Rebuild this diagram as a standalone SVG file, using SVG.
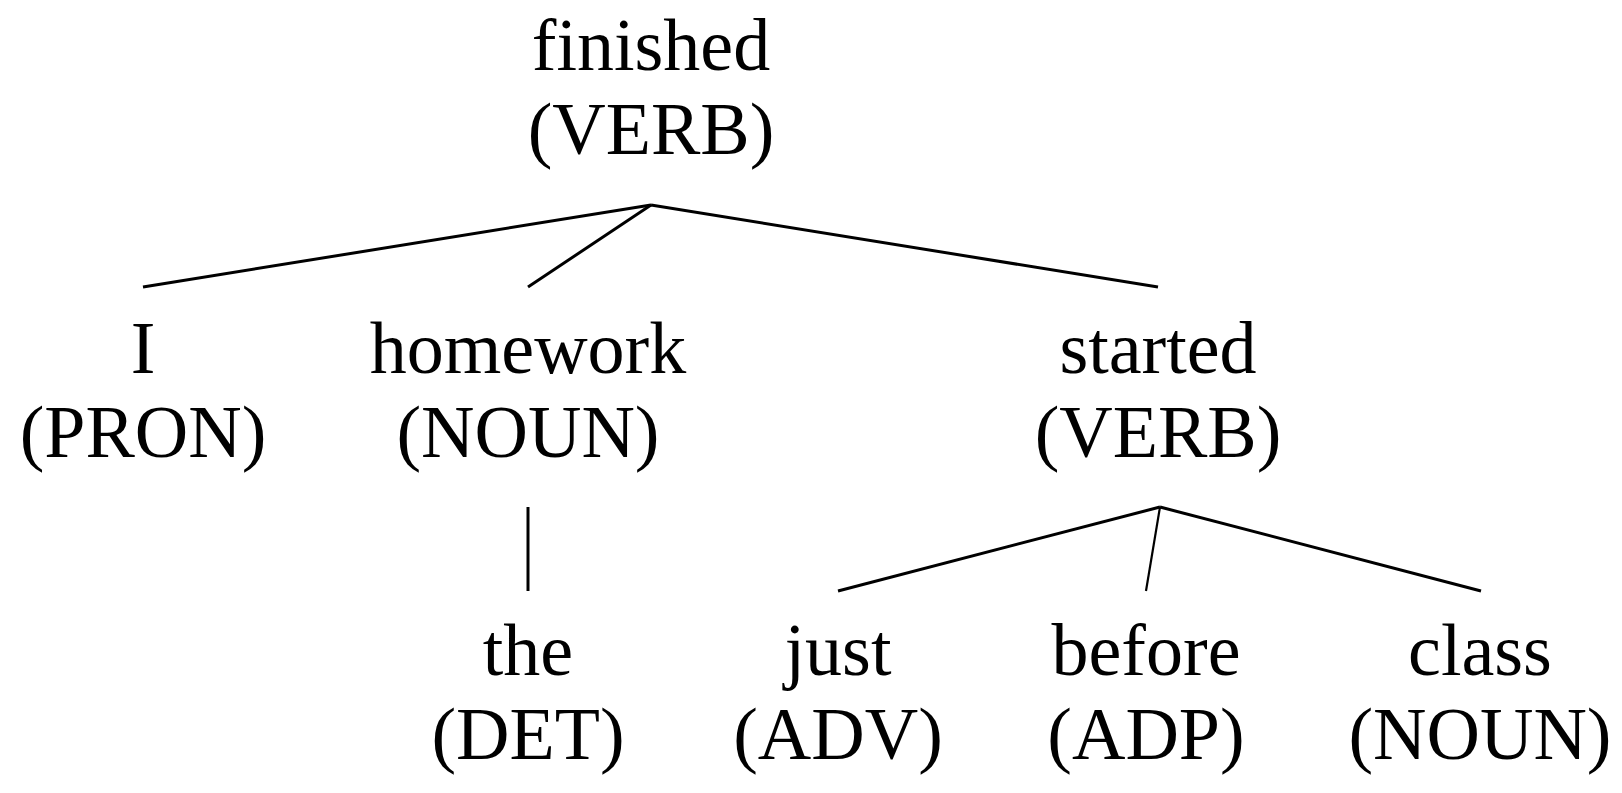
<svg xmlns="http://www.w3.org/2000/svg" width="1622" height="793" viewBox="0 0 1622 793">
<style>
text{font-family:"Liberation Serif","DejaVu Serif",serif;font-size:74px;fill:#000;text-anchor:middle}
.e{stroke:#000;stroke-width:3;fill:none;stroke-linecap:butt}
</style>
<rect width="1622" height="793" fill="#fff"/>
<g id="connectors">
<line class="e" x1="651" y1="205" x2="143" y2="287"/>
<line class="e" x1="651" y1="205" x2="528" y2="287"/>
<line class="e" x1="651" y1="205" x2="1158" y2="287"/>
<line class="e" x1="528" y1="507" x2="528" y2="591"/>
<line class="e" x1="1160" y1="507" x2="838" y2="591"/>
<line class="e" x1="1160" y1="507" x2="1146" y2="591" style="stroke-width:2.2"/>
<line class="e" x1="1160" y1="507" x2="1481" y2="591"/>
</g>
<g id="n-finished"><text x="651" y="70">finished</text><text x="651" y="154">(VERB)</text></g>
<g id="n-I"><text x="143" y="373">I</text><text x="143" y="457">(PRON)</text></g>
<g id="n-homework"><text x="528" y="373">homework</text><text x="528" y="457">(NOUN)</text></g>
<g id="n-started"><text x="1158" y="373">started</text><text x="1158" y="457">(VERB)</text></g>
<g id="n-the"><text x="528" y="675">the</text><text x="528" y="759">(DET)</text></g>
<g id="n-just"><text x="838" y="675">just</text><text x="838" y="759">(ADV)</text></g>
<g id="n-before"><text x="1146" y="675">before</text><text x="1146" y="759">(ADP)</text></g>
<g id="n-class"><text x="1480" y="675">class</text><text x="1480" y="759">(NOUN)</text></g>
</svg>
